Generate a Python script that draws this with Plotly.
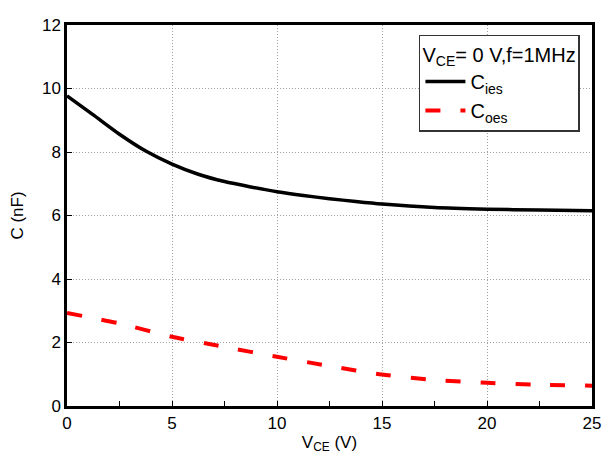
import plotly.graph_objects as go

vce_ies = [0, 1.25, 2.5, 3.75, 5, 6.25, 7.5, 8.75, 10, 11.25, 12.5, 13.75, 15, 17.5, 20, 22.5, 25]
c_ies = [9.77, 9.17, 8.56, 8.03, 7.62, 7.30, 7.07, 6.90, 6.75, 6.63, 6.53, 6.44, 6.36, 6.25, 6.2, 6.17, 6.15]

vce_oes = [0, 2.5, 5, 7.5, 10, 12.5, 15, 17.5, 20, 22.5, 25]
c_oes = [2.93, 2.6, 2.18, 1.86, 1.55, 1.26, 0.99, 0.82, 0.73, 0.67, 0.64]

font = "Liberation Sans, Arial, sans-serif"

fig = go.Figure()
fig.add_trace(go.Scatter(x=vce_ies, y=c_ies, mode="lines", name="C<sub>ies</sub>",
                         line=dict(color="black", width=3.5, shape="spline", smoothing=0.6)))
fig.add_trace(go.Scatter(x=vce_oes, y=c_oes, mode="lines", name="C<sub>oes</sub>",
                         line=dict(color="#ff0000", width=4, dash="15px,20px", shape="spline", smoothing=0.6)))

axis_common = dict(showline=True, linecolor="black", linewidth=2.5, mirror=True,
                   showgrid=True, gridcolor="#a0a0a0", griddash="1px,2px", gridwidth=1,
                   zeroline=False, ticks="inside", ticklen=5, tickcolor="black",
                   tickfont=dict(family=font, size=17, color="black"))

fig.update_xaxes(range=[0, 25], dtick=5, tick0=0,
                 minor=dict(dtick=2.5, ticks="inside", ticklen=5, tickcolor="black", showgrid=False),
                 title=dict(text="V<sub>CE</sub> (V)", font=dict(family=font, size=17, color="black"), standoff=4),
                 **axis_common)
fig.update_yaxes(range=[0, 12], dtick=2, tick0=0,
                 title=dict(text="C (nF)", font=dict(family=font, size=17, color="black"), standoff=14),
                 **axis_common)

fig.update_layout(
    width=613, height=462,
    margin=dict(l=57, r=29, t=8, b=64),
    plot_bgcolor="white", paper_bgcolor="white",
    font=dict(family=font, size=17, color="black"),
    legend=dict(title=dict(text="V<sub>CE</sub>= 0 V,f=1MHz", font=dict(family=font, size=20)),
                x=0.977, y=0.975, xanchor="right", yanchor="top",
                bgcolor="white", bordercolor="#333333", borderwidth=1.5,
                font=dict(family=font, size=20), itemwidth=40),
    showlegend=True,
)

fig.write_html("out.html")
